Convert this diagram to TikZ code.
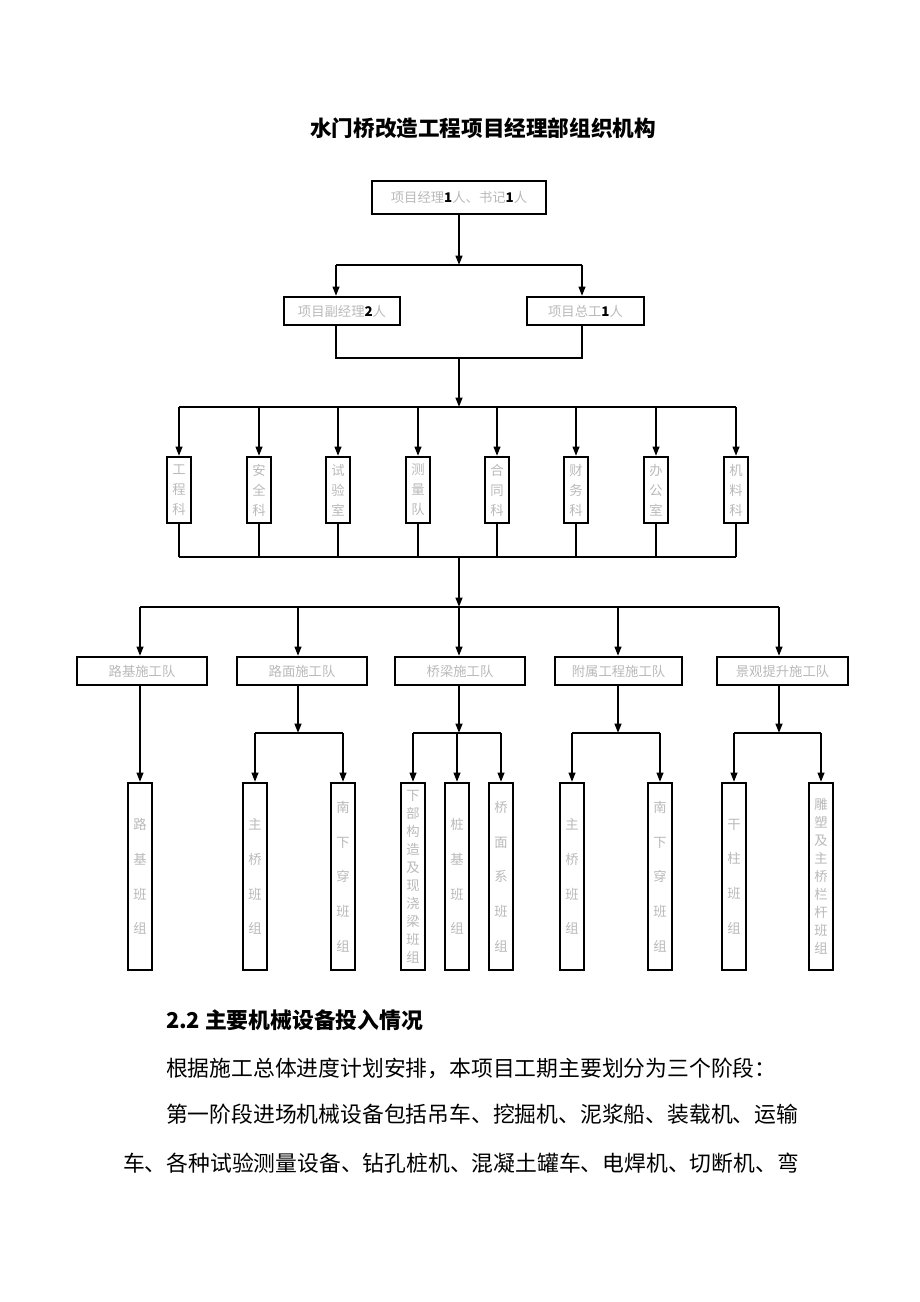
\documentclass[tikz,border=0pt]{standalone}
\usepackage{fontspec}
\setmainfont{Noto Sans CJK SC}
\usetikzlibrary{arrows.meta}
\newcommand\dgt[1]{\textcolor{black}{\textbf{#1}}}
\begin{document}
\begin{tikzpicture}[x=0.75pt,y=-0.75pt,line width=1.5pt,
  box/.style={draw=black,line width=1.6pt,inner sep=0pt,text=gray!55,align=center,font=\fontsize{10pt}{12pt}\selectfont},
  hbox/.style={box,minimum height=21pt},
  dept/.style={box,minimum width=18pt,minimum height=49.5pt,font=\fontsize{10pt}{15pt}\selectfont},
  crew/.style={box,minimum width=18pt,minimum height=140.25pt,font=\fontsize{10pt}{26pt}\selectfont},
  crewlong/.style={crew,font=\fontsize{10pt}{13.5pt}\selectfont},
  arr/.style={-{Triangle[length=7pt,width=5pt]}},
  para/.style={anchor=west,inner sep=0pt,font=\fontsize{16.35pt}{20pt}\selectfont}]
\useasboundingbox (0,0) rectangle (920,1302);

% title
\node[font=\fontsize{16.2pt}{18pt}\selectfont\bfseries,inner sep=0pt] (title) at (483,128) {水门桥改造工程项目经理部组织机构};

% level 1
\node[box,minimum width=130.5pt,minimum height=24.75pt] (gm) at (459,197.5) {项目经理\dgt{1}人、书记\dgt{1}人};
% level 2
\node[hbox,minimum width=87pt] (pm) at (342,311) {项目副经理\dgt{2}人};
\node[hbox,minimum width=87.75pt] (ce) at (585.5,311) {项目总工\dgt{1}人};

\coordinate (a1) at (459,265);
\coordinate (a1l) at (336,265);
\coordinate (a1r) at (582,265);
\draw[arr] (gm) -- (a1);
\draw (a1l) -- (a1r);
\draw[arr] (a1l) -- (a1l |- pm.north);
\draw[arr] (a1r) -- (a1r |- ce.north);

\coordinate (b1l) at (336,358);
\coordinate (b1r) at (582,358);
\coordinate (b1) at (459,358);
\coordinate (c1) at (459,407);
\draw (a1l |- pm.south) -- (b1l) -- (b1r) -- (a1r |- ce.south);
\draw[arr] (b1) -- (c1);

% departments
\node[dept] (d1) at (179,490) {工\\程\\科};
\node[dept] (d2) at (259,490) {安\\全\\科};
\node[dept] (d3) at (338,490) {试\\验\\室};
\node[dept] (d4) at (418,490) {测\\量\\队};
\node[dept] (d5) at (497,490) {合\\同\\科};
\node[dept] (d6) at (576,490) {财\\务\\科};
\node[dept] (d7) at (656,490) {办\\公\\室};
\node[dept] (d8) at (736,490) {机\\料\\科};

\draw (d1.north |- c1) -- (d8.north |- c1);
\foreach \i in {1,...,8} \draw[arr] (d\i.north |- c1) -- (d\i.north);

\coordinate (e1) at (459,557);
\coordinate (f1) at (459,607);
\foreach \i in {1,...,8} \draw (d\i.south) -- (d\i.south |- e1);
\draw (d1.south |- e1) -- (d8.south |- e1);
\draw[arr] (e1) -- (f1);

% teams
\node[hbox,minimum width=97.5pt] (t1) at (142,671) {路基施工队};
\node[hbox,minimum width=97.5pt] (t2) at (302,671) {路面施工队};
\node[hbox,minimum width=97.5pt] (t3) at (460,671) {桥梁施工队};
\node[hbox,minimum width=95.25pt] (t4) at (618.5,671) {附属工程施工队};
\node[hbox,minimum width=98.25pt] (t5) at (782.5,671) {景观提升施工队};

\coordinate (g1) at (140,607);
\coordinate (g2) at (298,607);
\coordinate (g3) at (459,607);
\coordinate (g4) at (618,607);
\coordinate (g5) at (779,607);
\draw (g1) -- (g5);
\foreach \i in {1,...,5} \draw[arr] (g\i) -- (g\i |- t\i.north);

% crews
\node[crew] (k1) at (140,876.5) {路\\基\\班\\组};
\node[crew] (k2a) at (255,876.5) {主\\桥\\班\\组};
\node[crew] (k2b) at (343,876.5) {南\\下\\穿\\班\\组};
\node[crewlong] (k3a) at (413,876.5) {下\\部\\构\\造\\及\\现\\浇\\梁\\班\\组};
\node[crew] (k3b) at (457,876.5) {桩\\基\\班\\组};
\node[crew] (k3c) at (501,876.5) {桥\\面\\系\\班\\组};
\node[crew] (k4a) at (572,876.5) {主\\桥\\班\\组};
\node[crew] (k4b) at (660,876.5) {南\\下\\穿\\班\\组};
\node[crew] (k5a) at (734,876.5) {干\\柱\\班\\组};
\node[crewlong] (k5b) at (821,876.5) {雕\\塑\\及\\主\\桥\\栏\\杆\\班\\组};

\draw[arr] (g1 |- t1.south) -- (k1.north);

\coordinate (h2) at (298,733);
\coordinate (h3) at (459,733);
\coordinate (h4) at (618,733);
\coordinate (h5) at (779,733);
\draw[arr] (g2 |- t2.south) -- (h2);
\draw[arr] (g3 |- t3.south) -- (h3);
\draw[arr] (g4 |- t4.south) -- (h4);
\draw[arr] (g5 |- t5.south) -- (h5);

\draw (k2a.north |- h2) -- (k2b.north |- h2);
\draw[arr] (k2a.north |- h2) -- (k2a.north);
\draw[arr] (k2b.north |- h2) -- (k2b.north);

\draw (k3a.north |- h3) -- (k3c.north |- h3);
\draw[arr] (k3a.north |- h3) -- (k3a.north);
\draw[arr] (k3b.north |- h3) -- (k3b.north);
\draw[arr] (k3c.north |- h3) -- (k3c.north);

\draw (k4a.north |- h4) -- (k4b.north |- h4);
\draw[arr] (k4a.north |- h4) -- (k4a.north);
\draw[arr] (k4b.north |- h4) -- (k4b.north);

\draw (k5a.north |- h5) -- (k5b.north |- h5);
\draw[arr] (k5a.north |- h5) -- (k5a.north);
\draw[arr] (k5b.north |- h5) -- (k5b.north);

% text below
\node[para,font=\fontsize{16.35pt}{20pt}\selectfont\bfseries] (p0) at (165,1020) {2.2 主要机械设备投入情况};
\node[para] (p1) at (165,1068) {根据施工总体进度计划安排，本项目工期主要划分为三个阶段：};
\node[para] (p2) at (165,1114) {第一阶段进场机械设备包括吊车、挖掘机、泥浆船、装载机、运输};
\node[para] (p3) at (122,1163) {车、各种试验测量设备、钻孔桩机、混凝土罐车、电焊机、切断机、弯};
\end{tikzpicture}
\end{document}
